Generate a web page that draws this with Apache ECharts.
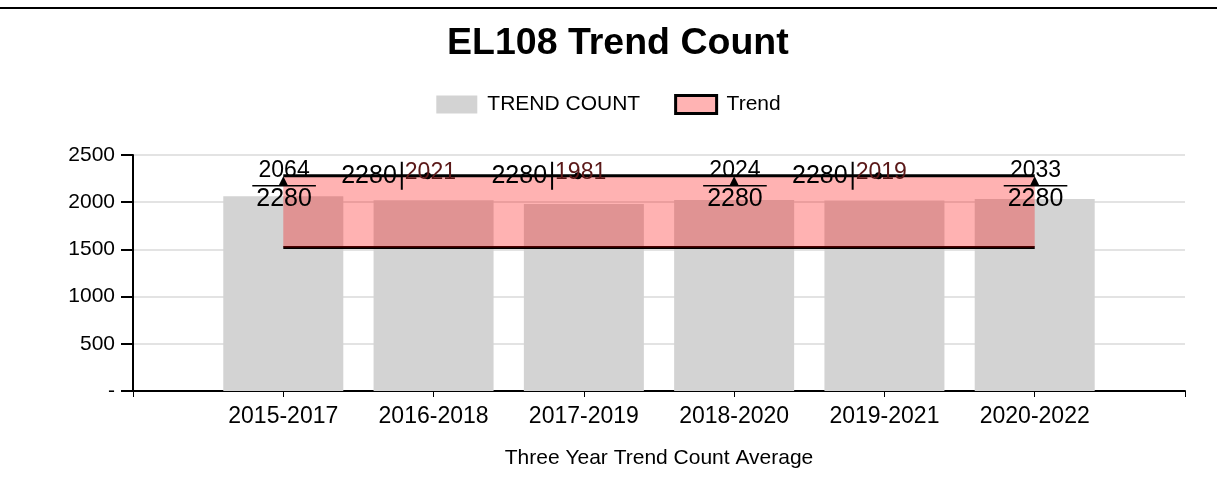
<!doctype html>
<html>
<head>
    <meta charset="utf-8">
    <script src="https://cdn.jsdelivr.net/npm/echarts@6/dist/echarts.min.js"></script>
    <style>
        body { margin: 0; background: #fff; }
        #main { width: 1217px; height: 485px; }
    </style>
</head>
<body>
<div id="main"></div>
<script type="text/javascript">
    // data (blank categories pad both ends)
    var categories = ['', '2015-2017', '2016-2018', '2017-2019', '2018-2020', '2019-2021', '2020-2022', ''];
    var trendCount = [null, 2064, 2021, 1981, 2024, 2019, 2033, null];
    var trendHigh = [null, 2280, 2280, 2280, 2280, 2280, 2280, null];
    var trendLow = [null, 1520, 1520, 1520, 1520, 1520, 1520, null];
    // which points show the stacked "fraction" label vs the "a|b" label
    var fractionPoints = [1, 4, 6];
    var yTicks = [0, 500, 1000, 1500, 2000, 2500];

    var myChart = echarts.init(document.getElementById('main'));

    var fontFam = 'Liberation Sans, Arial, sans-serif';

    var bandData = trendHigh.map(function (v, i) {
        if (v == null) return '-';
        var frac = fractionPoints.indexOf(i) > -1;
        return {
            value: v - trendLow[i],
            symbol: frac ? 'triangle' : 'circle',
            symbolSize: frac ? 9 : 7,
            symbolOffset: frac ? [0, 5] : [-6, 0],
            label: frac ? { align: 'left', offset: [-31, 3] } : { offset: [-31, 0] }
        };
    });

    var option = {
        animation: false,
        title: {
            text: 'EL108 Trend Count',
            left: 442,
            top: 20,
            textStyle: { fontFamily: fontFam, fontSize: 37.5, fontWeight: 'bold', color: '#000' }
        },
        legend: {
            top: 89,
            left: 'center',
            itemWidth: 41,
            itemHeight: 18,
            itemGap: 34,
            data: [
                { name: 'TREND COUNT', icon: 'rect', itemStyle: { color: '#d3d3d3' } },
                { name: 'Trend', icon: 'rect', itemStyle: { color: '#ffb3b3', borderColor: '#000', borderWidth: 3 } }
            ],
            textStyle: { fontFamily: fontFam, fontSize: 21, color: '#000', padding: [0, 0, 0, 5] }
        },
        graphic: [{
            type: 'line',
            shape: { x1: 0, y1: 8, x2: 1217, y2: 8 },
            style: { stroke: '#000', lineWidth: 2 }
        }],
        grid: { left: 133, right: 32, top: 155, bottom: 94 },
        xAxis: {
            type: 'category',
            data: categories,
            boundaryGap: false,
            name: 'Three Year Trend Count Average',
            nameLocation: 'middle',
            nameGap: 57,
            nameTextStyle: { fontFamily: fontFam, fontSize: 21, color: '#000' },
            axisLine: { lineStyle: { color: '#000', width: 2 } },
            axisTick: { show: true, length: 6, lineStyle: { color: '#000' } },
            axisLabel: { fontFamily: fontFam, fontSize: 23, color: '#000', margin: 14 }
        },
        yAxis: {
            type: 'value',
            min: yTicks[0],
            max: yTicks[yTicks.length - 1],
            interval: 500,
            axisLine: { show: true, lineStyle: { color: '#000', width: 2 } },
            axisTick: { show: true, length: 12, lineStyle: { color: '#000', width: 2 } },
            axisLabel: {
                fontFamily: fontFam, fontSize: 21, color: '#000', margin: 18,
                formatter: function (v) { return v === 0 ? '-' : String(v); }
            },
            splitLine: { lineStyle: { color: '#e3e3e3', width: 2 } }
        },
        series: [
            {
                name: 'TREND COUNT',
                type: 'bar',
                data: trendCount,
                barWidth: 120,
                itemStyle: { color: '#d3d3d3' },
                z: 1
            },
            {
                name: 'TrendLow',
                type: 'line',
                stack: 'band',
                data: trendLow,
                symbol: 'none',
                lineStyle: { color: '#000', width: 3 },
                z: 3
            },
            {
                name: 'Trend',
                type: 'line',
                stack: 'band',
                data: bandData,
                itemStyle: { color: '#000' },
                lineStyle: { color: '#000', width: 3 },
                areaStyle: { color: 'rgba(255,0,0,0.3)', opacity: 1 },
                z: 4,
                label: {
                    show: true,
                    position: 'inside',
                    fontFamily: fontFam,
                    color: '#000',
                    formatter: function (p) {
                        var i = p.dataIndex;
                        if (fractionPoints.indexOf(i) > -1) {
                            return '{v|' + trendCount[i] + '}\n{hr|}\n{t|' + trendHigh[i] + '}';
                        }
                        return '{t|' + trendHigh[i] + '}{sep|}{w|' + trendCount[i] + '}';
                    },
                    rich: {
                        v: { fontFamily: fontFam, fontSize: 23, color: '#000', lineHeight: 30, align: 'center' },
                        w: { fontFamily: fontFam, fontSize: 23, color: '#5a1818', lineHeight: 24, padding: [0, 0, 6, 2] },
                        t: { fontFamily: fontFam, fontSize: 25, color: '#000', lineHeight: 26, align: 'center', padding: [0, 4] },
                        hr: { width: '100%', height: 0, borderColor: '#000', borderWidth: 1.5 },
                        sep: { width: 2, height: 28, backgroundColor: '#000' }
                    }
                }
            }
        ]
    };

    myChart.setOption(option);
</script>
</body>
</html>
